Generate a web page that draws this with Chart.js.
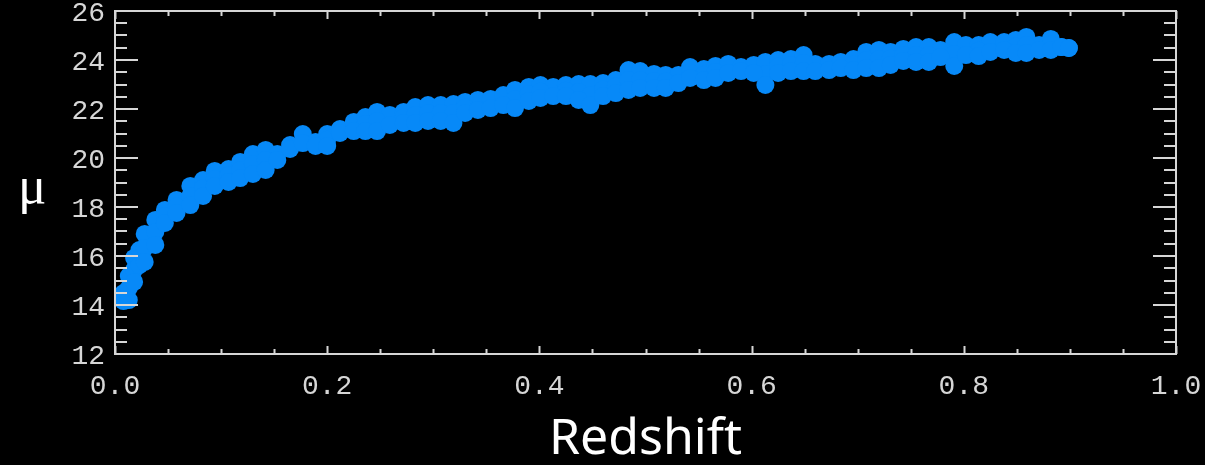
<!DOCTYPE html>
<html>
<head>
<meta charset="utf-8">
<script src="https://cdn.jsdelivr.net/npm/chart.js@4"></script>
<style>
  html, body { margin: 0; padding: 0; background: #000; }
  #wrap { position: relative; width: 1205px; height: 465px; }
  #mu { position: absolute; left: 18px; top: 155px; color: #fff;
        font: 53px "Liberation Serif", serif; }
</style>
</head>
<body>
<div id="wrap">
  <canvas id="chart" width="1205" height="465"></canvas>
  <div id="mu">μ</div>
</div>
<script>
// redshift columns
const redshift = [
  0.008, 0.013, 0.018, 0.023, 0.028, 0.038, 0.047, 0.058, 0.071, 0.083,
  0.094, 0.107, 0.118, 0.130, 0.142, 0.153, 0.165, 0.177, 0.189, 0.200,
  0.212, 0.225, 0.236, 0.247, 0.259, 0.272, 0.283, 0.295, 0.307, 0.319,
  0.330, 0.342, 0.354, 0.366, 0.377, 0.390, 0.401, 0.413, 0.425, 0.437,
  0.448, 0.460, 0.472, 0.484, 0.495, 0.508, 0.519, 0.531, 0.542, 0.555,
  0.566, 0.578, 0.590, 0.602, 0.613, 0.625, 0.637, 0.649, 0.660, 0.673,
  0.684, 0.696, 0.708, 0.720, 0.731, 0.743, 0.755, 0.767, 0.778, 0.791,
  0.802, 0.814, 0.825, 0.838, 0.849, 0.859, 0.871, 0.882, 0.892, 0.899
];

// distance modulus, upper side of the band
const muHigh = [
  14.49, 15.18, 15.92, 16.24, 16.90, 17.47, 17.88, 18.29, 18.86, 19.10,
  19.47, 19.55, 19.84, 20.16, 20.33, 20.16, 20.53, 20.98, 20.65, 20.98,
  21.18, 21.47, 21.67, 21.88, 21.76, 21.88, 22.08, 22.16, 22.16, 22.20,
  22.29, 22.37, 22.41, 22.57, 22.78, 22.90, 22.98, 22.90, 22.98, 23.02,
  23.02, 23.06, 23.18, 23.59, 23.55, 23.43, 23.39, 23.39, 23.71, 23.63,
  23.76, 23.84, 23.71, 23.80, 23.92, 24.00, 24.04, 24.20, 23.84, 23.84,
  23.92, 24.04, 24.33, 24.41, 24.33, 24.45, 24.53, 24.53, 24.41, 24.73,
  24.61, 24.61, 24.73, 24.73, 24.82, 24.94, 24.61, 24.86, 24.53, 24.49
];

// lower side of the band
const muLow = [
  14.16, 14.20, 14.94, 15.63, 15.76, 16.45, 17.35, 17.76, 18.08, 18.45,
  18.86, 19.02, 19.18, 19.35, 19.51, 19.92, 20.37, 20.61, 20.49, 20.49,
  21.02, 21.10, 21.10, 21.10, 21.35, 21.43, 21.43, 21.51, 21.51, 21.43,
  21.84, 21.96, 22.04, 22.16, 22.04, 22.33, 22.45, 22.53, 22.53, 22.37,
  22.16, 22.53, 22.65, 22.78, 22.86, 22.86, 22.86, 23.06, 23.27, 23.18,
  23.27, 23.47, 23.55, 23.47, 22.98, 23.47, 23.55, 23.55, 23.55, 23.59,
  23.67, 23.59, 23.67, 23.67, 23.80, 23.96, 23.92, 23.92, 24.12, 23.76,
  24.20, 24.16, 24.33, 24.41, 24.29, 24.29, 24.41, 24.41, 24.53, 24.49
];

// points inside the band, where it is wide
const muMid = [
  null, 14.69, 15.43, 15.92, 16.33, 16.98, 17.62, 18.02, 18.45, 18.78,
  19.14, 19.29, 19.51, 19.76, 19.92, null, null, null, null, 20.74,
  null, null, 21.39, 21.51, null, 21.65, 21.76, 21.84, 21.84, 21.84,
  22.06, null, null, null, 22.41, 22.61, 22.71, null, 22.75, 22.69,
  22.57, 22.80, 22.92, 23.18, 23.18, 23.14, 23.12, null, 23.49, 23.40,
  23.51, null, null, null, 23.43, 23.73, 23.80, 23.88, null, null,
  null, 23.82, 24.00, 24.04, 24.06, 24.20, 24.20, 24.20, null, 24.24,
  null, 24.38, null, null, 24.55, 24.61, null, 24.63, null, null
];

const xTicks = [0.0, 0.2, 0.4, 0.6, 0.8, 1.0];
const yTicks = [12, 14, 16, 18, 20, 22, 24, 26];

const axisColor = '#d6d6d6';
const pointColor = '#0789f8';

// build scatter points
const points = [];
[muHigh, muMid, muLow].forEach(arr => {
  arr.forEach((m, i) => {
    if (m !== null) points.push({ x: redshift[i], y: m });
  });
});

// frame + inward ticks on all four sides
const framePlugin = {
  id: 'frame',
  afterDraw(chart) {
    const { ctx, chartArea: a } = chart;
    const xs = chart.scales.x, ys = chart.scales.y;
    ctx.save();
    ctx.strokeStyle = axisColor;
    ctx.lineWidth = 2;
    ctx.strokeRect(a.left, a.top, a.right - a.left, a.bottom - a.top);
    ctx.beginPath();
    for (let i = 0; i <= 20; i++) {
      const px = Math.round(xs.getPixelForValue(i * 0.05)) + 0.5;
      const len = i % 4 === 0 ? 8 : 5;
      ctx.moveTo(px, a.bottom); ctx.lineTo(px, a.bottom - len);
      ctx.moveTo(px, a.top); ctx.lineTo(px, a.top + len);
    }
    for (let i = 0; i <= 28; i++) {
      const py = Math.round(ys.getPixelForValue(12 + i * 0.5));
      const len = i % 4 === 0 ? 23 : 12;
      ctx.moveTo(a.left, py); ctx.lineTo(a.left + len, py);
      ctx.moveTo(a.right, py); ctx.lineTo(a.right - len, py);
    }
    ctx.stroke();
    ctx.restore();
  }
};

new Chart(document.getElementById('chart'), {
  type: 'scatter',
  data: {
    datasets: [{
      data: points,
      backgroundColor: pointColor,
      borderWidth: 0,
      pointRadius: 9,
      pointHoverRadius: 9
    }]
  },
  options: {
    responsive: false,
    animation: false,
    devicePixelRatio: 1,
    layout: { padding: { left: 0, right: 29, top: 11, bottom: 0 } },
    plugins: { legend: { display: false }, tooltip: { enabled: false } },
    scales: {
      x: {
        type: 'linear',
        min: 0, max: 1,
        afterBuildTicks: s => { s.ticks = xTicks.map(v => ({ value: v })); },
        afterFit: s => { s.height = 111; s.paddingLeft = 0; s.paddingRight = 0; },
        grid: { display: false, drawTicks: false },
        border: { display: false },
        ticks: {
          color: axisColor,
          padding: 21,
          maxRotation: 0,
          font: { family: 'Liberation Mono', size: 28, lineHeight: 0.8 },
          callback: v => v.toFixed(1)
        },
        title: {
          display: true,
          text: 'Redshift',
          color: '#ffffff',
          font: { family: 'Noto Sans', size: 50, lineHeight: 1 },
          padding: { top: 0, bottom: 0 }
        }
      },
      y: {
        type: 'linear',
        min: 12, max: 26,
        afterBuildTicks: s => { s.ticks = yTicks.map(v => ({ value: v })); },
        afterFit: s => { s.width = 115; s.paddingTop = 0; s.paddingBottom = 0; },
        grid: { display: false, drawTicks: false },
        border: { display: false },
        ticks: {
          color: axisColor,
          padding: 10,
          labelOffset: 3,
          font: { family: 'Liberation Mono', size: 28, lineHeight: 0.8 },
          callback: v => String(v)
        }
      }
    }
  },
  plugins: [framePlugin]
});
</script>
</body>
</html>
